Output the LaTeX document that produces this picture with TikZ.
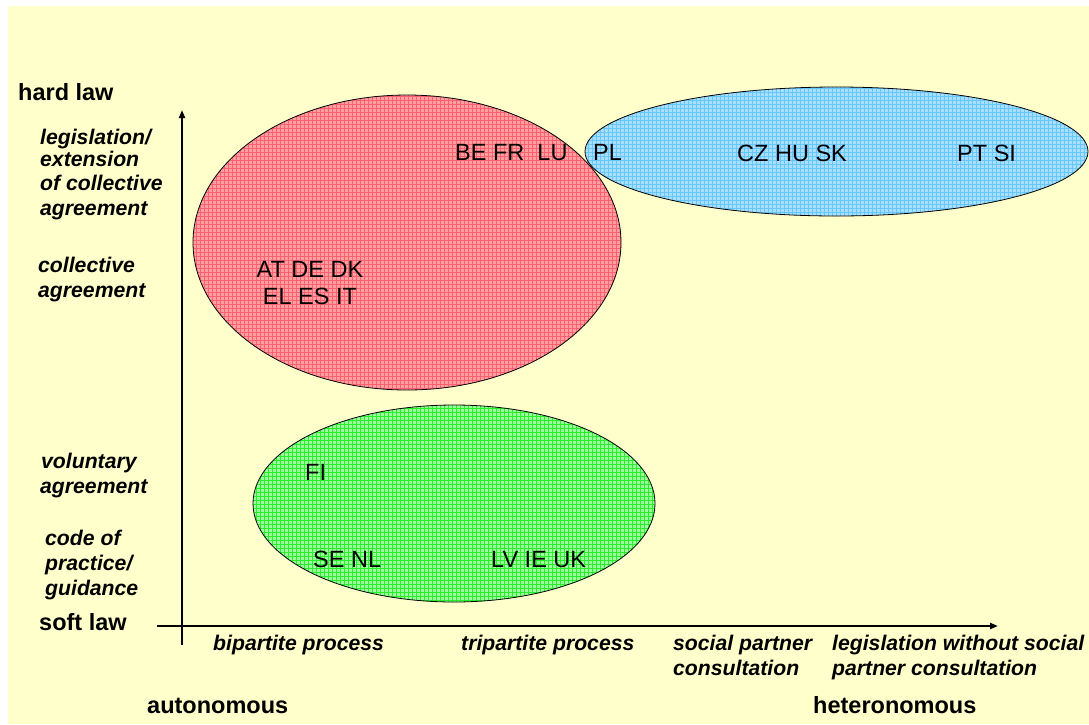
\documentclass[tikz,border=0pt]{standalone}
\usepackage{fontspec}
\setmainfont{Liberation Sans}
\usetikzlibrary{arrows.meta}
\definecolor{bg}{RGB}{255,255,204}
\definecolor{redcell}{RGB}{255,160,160}
\definecolor{redline}{RGB}{255,96,112}
\definecolor{bluecell}{RGB}{170,222,255}
\definecolor{blueline}{RGB}{100,200,255}
\definecolor{greencell}{RGB}{160,255,160}
\definecolor{greenline}{RGB}{40,240,40}
\tikzset{
  lbl/.style={font=\fontsize{21.2}{25}\selectfont\bfseries\itshape, anchor=base west, inner sep=0pt},
  big/.style={font=\fontsize{23.5}{28}\selectfont\bfseries, anchor=base west, inner sep=0pt},
  cc/.style={font=\fontsize{23.5}{27}\selectfont, anchor=base west, inner sep=0pt},
  axis/.style={line width=2.5pt, -{Triangle[length=8pt,width=6pt]}},
  outline/.style={draw=black, line width=0.8pt},
}
\begin{document}
\begin{tikzpicture}[x=1pt,y=1pt]
\useasboundingbox (0,0) rectangle (1089,-724);
\fill[bg] (8,-6) rectangle (1089,-724);

% red ellipse
\begin{scope}
\clip (407,-242.5) ellipse [x radius=214pt, y radius=147.5pt];
\fill[redcell] (190,-90) rectangle (625,-395);
\draw[redline, line width=1pt, step=4pt] (188,-396) grid (628,-88);
\end{scope}
\draw[outline] (407,-242.5) ellipse [x radius=214pt, y radius=147.5pt];

% blue ellipse
\begin{scope}
\clip (836.5,-151.5) ellipse [x radius=251.5pt, y radius=64.5pt];
\fill[bluecell] (580,-84) rectangle (1092,-220);
\draw[blueline, line width=1pt, step=4pt] (580,-220) grid (1092,-84);
\end{scope}
\draw[outline] (836.5,-151.5) ellipse [x radius=251.5pt, y radius=64.5pt];

% green ellipse
\begin{scope}
\clip (454,-503.5) ellipse [x radius=201pt, y radius=98.5pt];
\fill[greencell] (250,-400) rectangle (660,-606);
\draw[greenline, line width=1pt, step=4pt] (248,-608) grid (660,-400);
\end{scope}
\draw[outline] (454,-503.5) ellipse [x radius=201pt, y radius=98.5pt];

% axes
\coordinate (vbot) at (182,-645);
\coordinate (vtop) at (182,-110);
\coordinate (hleft) at (157,-626);
\coordinate (hright) at (998,-626);
\draw[axis] (vbot) -- (vtop);
\draw[axis] (hleft) -- (hright);

% vertical axis labels
\node[big] (hard) at (18,-100) {hard law};
\node[big] (soft) at (39,-630) {soft law};
\node[lbl] (l1) at (40,-144.5) {legislation/};
\node[lbl] (l2) at (40,-166) {extension};
\node[lbl] (l3) at (40,-190) {of collective};
\node[lbl] (l4) at (40,-215) {agreement};
\node[lbl] (c1) at (38,-272) {collective};
\node[lbl] (c2) at (38,-297) {agreement};
\node[lbl] (v1) at (41,-468) {voluntary};
\node[lbl] (v2) at (40,-493) {agreement};
\node[lbl] (p1) at (45,-545) {code of};
\node[lbl] (p2) at (45,-570) {practice/};
\node[lbl] (p3) at (45,-595) {guidance};

% horizontal axis labels
\node[lbl] (bi) at (213,-650) {bipartite process};
\node[lbl] (tri) at (461,-650) {tripartite process};
\node[lbl] (sp1) at (673,-650) {social partner};
\node[lbl] (sp2) at (673,-675) {consultation};
\node[lbl] (lw1) at (832,-650) {legislation without social};
\node[lbl] (lw2) at (832,-675) {partner consultation};
\node[big] (auto) at (147,-713) {autonomous};
\node[big] (hetero) at (813,-713) {heteronomous};

% country codes
\node[cc] (befr) at (455,-160) {BE FR\ \ LU};
\node[cc] (pl) at (593,-160) {PL};
\node[cc] (czhu) at (737,-161) {CZ HU SK};
\node[cc] (ptsi) at (957,-161) {PT SI};
\node[cc, anchor=base] (atde) at (310,-277) {AT DE DK};
\node[cc, anchor=base] (eles) at (310,-304) {EL ES IT};
\node[cc] (fi) at (305,-480) {FI};
\node[cc] (senl) at (313,-567) {SE NL};
\node[cc] (lvie) at (491,-567) {LV IE UK};
\end{tikzpicture}
\end{document}
